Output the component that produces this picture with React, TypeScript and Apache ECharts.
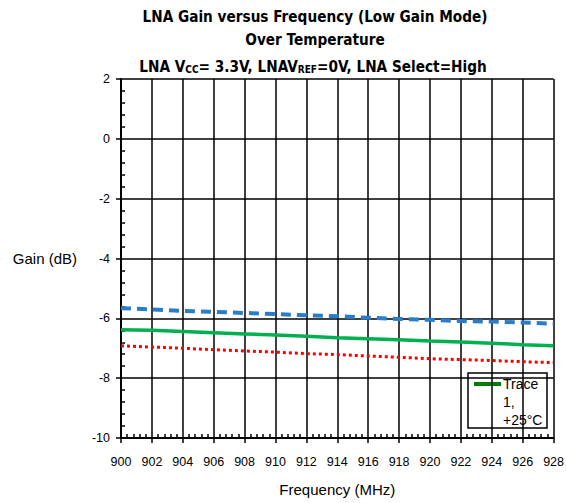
import React, { useEffect, useRef } from 'react';
import * as echarts from 'echarts';

const freqMHz = [900, 902, 904, 906, 908, 910, 912, 914, 916, 918, 920, 922, 924, 926, 928];
const gainMinus40 = [-5.66, -5.7, -5.75, -5.78, -5.82, -5.86, -5.9, -5.93, -5.98, -6.02, -6.05, -6.09, -6.11, -6.14, -6.18];
const gainPlus25 = [-6.38, -6.4, -6.44, -6.48, -6.52, -6.56, -6.6, -6.65, -6.68, -6.72, -6.76, -6.79, -6.83, -6.88, -6.92];
const gainPlus85 = [-6.92, -6.96, -7.0, -7.05, -7.09, -7.13, -7.18, -7.21, -7.26, -7.3, -7.35, -7.38, -7.41, -7.45, -7.48];

const titleLine1 = 'LNA Gain versus Frequency (Low Gain Mode)';
const titleLine2 = 'Over Temperature';
const titleLine3 = '{n|LNA V}{s|CC}{n|= 3.3V, LNAV}{s|REF}{n|=0V, LNA Select=High}';
const legendLines = ['Trace', '1,', '+25°C'];

const TITLE_FONT = '"Liberation Sans Narrow", "DejaVu Sans Condensed", Arial, sans-serif';
const BODY_FONT = '"Liberation Sans", Arial, sans-serif';

const pair = (ys: number[]) => freqMHz.map((x, i) => [x, ys[i]]);

export default function App() {
  const ref = useRef<HTMLDivElement>(null);
  useEffect(() => {
    document.body.style.margin = '0';
    const chart = echarts.init(ref.current!, null, { renderer: 'svg' });
    const grid = { left: 121, top: 79, width: 434, height: 359 };
    const xCommon = { type: 'value', min: 900, max: 928, interval: 2 };
    const yCommon = { type: 'value', min: -10, max: 2, interval: 2 };
    chart.setOption({
      animation: false,
      backgroundColor: '#fff',
      grid,
      xAxis: [
        {
          ...xCommon,
          position: 'bottom',
          name: 'Frequency (MHz)',
          nameLocation: 'middle',
          nameGap: 44,
          nameTextStyle: { fontFamily: BODY_FONT, fontSize: 15, color: '#000' },
          axisLine: { show: true, onZero: false, lineStyle: { color: '#000', width: 2 } },
          axisTick: { show: true, inside: false, length: 5, lineStyle: { color: '#000', width: 1.5 } },
          axisLabel: { margin: 17, fontFamily: BODY_FONT, fontSize: 12.5, color: '#000' },
          splitLine: { show: true, lineStyle: { color: '#000', width: 1.5 } },
          minorTick: { show: false },
        },
        {
          ...xCommon,
          position: 'bottom',
          axisLine: { show: false, onZero: false },
          axisTick: { show: false, inside: true },
          axisLabel: { show: false },
          splitLine: { show: false },
          minorTick: { show: true, splitNumber: 5, length: 4, lineStyle: { color: '#000', width: 1.5 } },
        },
      ],
      yAxis: [
        {
          ...yCommon,
          position: 'left',
          name: 'Gain (dB)',
          nameLocation: 'middle',
          nameRotate: 0,
          nameGap: 44,
          nameTextStyle: { fontFamily: BODY_FONT, fontSize: 15, color: '#000', align: 'right' },
          axisLine: { show: true, onZero: false, lineStyle: { color: '#000', width: 2 } },
          axisTick: { show: true, inside: false, length: 5, lineStyle: { color: '#000', width: 1.5 } },
          axisLabel: { margin: 11, fontFamily: BODY_FONT, fontSize: 12.5, color: '#000' },
          splitLine: { show: true, lineStyle: { color: '#000', width: 1.5 } },
          minorTick: { show: false },
        },
        {
          ...yCommon,
          position: 'left',
          axisLine: { show: false, onZero: false },
          axisTick: { show: false, inside: true },
          axisLabel: { show: false },
          splitLine: { show: false },
          minorTick: { show: true, splitNumber: 5, length: 4, lineStyle: { color: '#000', width: 1.5 } },
        },
      ],
      series: [
        {
          name: 'Trace 2, -40°C',
          type: 'line',
          xAxisIndex: 0,
          yAxisIndex: 0,
          data: pair(gainMinus40),
          showSymbol: false,
          lineStyle: { color: '#2A7DCB', width: 4, type: [10, 6] },
        },
        {
          name: 'Trace 1, +25°C',
          type: 'line',
          xAxisIndex: 0,
          yAxisIndex: 0,
          data: pair(gainPlus25),
          showSymbol: false,
          lineStyle: { color: '#00B050', width: 3.5 },
        },
        {
          name: 'Trace 3, +85°C',
          type: 'line',
          xAxisIndex: 0,
          yAxisIndex: 0,
          data: pair(gainPlus85),
          showSymbol: false,
          lineStyle: { color: '#FF0000', width: 3, type: [3, 3] },
        },
      ],
      graphic: [
        {
          type: 'text',
          x: 315,
          y: 17,
          style: { text: titleLine1, align: 'center', verticalAlign: 'middle', font: `bold 15.2px ${TITLE_FONT}`, fill: '#000' },
        },
        {
          type: 'text',
          x: 315,
          y: 40,
          style: { text: titleLine2, align: 'center', verticalAlign: 'middle', font: `bold 15.2px ${TITLE_FONT}`, fill: '#000' },
        },
        {
          type: 'text',
          x: 313,
          y: 63,
          style: {
            text: titleLine3,
            align: 'center',
            verticalAlign: 'middle',
            rich: {
              n: { fontFamily: TITLE_FONT, fontWeight: 'bold', fontSize: 15.2, lineHeight: 22, verticalAlign: 'bottom', fill: '#000' },
              s: { fontFamily: TITLE_FONT, fontWeight: 'bold', fontSize: 10, lineHeight: 7, verticalAlign: 'bottom', fill: '#000' },
            },
          },
        },
        {
          type: 'group',
          z: 100,
          children: [
            {
              type: 'rect',
              shape: { x: 468, y: 373, width: 79, height: 55 },
              style: { fill: '#fff', stroke: '#000', lineWidth: 1.5 },
            },
            {
              type: 'line',
              shape: { x1: 474, y1: 384, x2: 501, y2: 384 },
              style: { stroke: '#008000', lineWidth: 4 },
            },
            ...legendLines.map((t, i) => ({
              type: 'text',
              x: 503,
              y: 384 + i * 18,
              style: { text: t, align: 'left', verticalAlign: 'middle', font: `14px ${BODY_FONT}`, fill: '#000' },
            })),
          ],
        },
      ],
    });
    return () => chart.dispose();
  }, []);
  return <div ref={ref} style={{ width: 567, height: 503 }} />;
}
